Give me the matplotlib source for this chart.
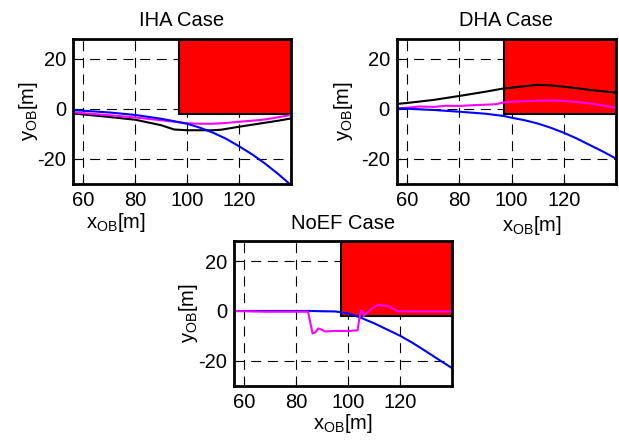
import matplotlib.pyplot as plt
from matplotlib.patches import Rectangle

plt.rcParams['font.family'] = ['Liberation Sans', 'DejaVu Sans']
plt.rcParams['mathtext.fontset'] = 'custom'
plt.rcParams['mathtext.rm'] = 'Liberation Sans'
plt.rcParams['mathtext.it'] = 'Liberation Sans'
plt.rcParams['axes.unicode_minus'] = False

# --- data ---
iha_blue_x = [56, 60, 70, 80, 90, 100, 105, 110, 115, 120, 125, 130, 135, 140]
iha_blue_y = [-0.6, -0.8, -1.5, -2.5, -4.0, -6.0, -7.6, -9.6, -12.0, -15.0, -18.2, -21.9, -26.0, -30.5]
iha_mag_x = [56, 60, 70, 80, 90, 100, 105, 110, 115, 120, 125, 130, 135, 140]
iha_mag_y = [-1.5, -1.8, -2.6, -3.5, -4.6, -5.8, -6.0, -6.0, -5.7, -5.2, -4.8, -4.3, -3.4, -2.5]
iha_blk_x = [56, 60, 70, 80, 90, 95, 100, 105, 110, 113, 120, 125, 130, 135, 140]
iha_blk_y = [-1.9, -2.3, -3.3, -4.4, -6.6, -8.3, -8.6, -8.6, -8.6, -8.4, -7.2, -6.4, -5.6, -4.8, -3.9]

dha_blue_x = [56, 60, 70, 80, 90, 97, 100, 105, 110, 115, 120, 125, 130, 135, 140]
dha_blue_y = [0.1, 0.0, -0.5, -1.2, -2.0, -2.9, -3.6, -4.6, -5.9, -7.6, -9.6, -11.9, -14.5, -17.1, -19.9]
dha_mag_x = [56, 60, 65, 70, 75, 80, 85, 90, 94, 97, 100, 105, 110, 115, 120, 125, 130, 135, 140]
dha_mag_y = [0.1, 0.4, 0.9, 0.7, 1.2, 1.1, 1.4, 1.6, 1.8, 2.5, 2.8, 3.0, 3.2, 3.3, 3.1, 2.7, 2.1, 1.3, 0.4]
dha_blk_x = [56, 60, 70, 80, 90, 97, 100, 105, 110, 115, 120, 125, 130, 135, 140]
dha_blk_y = [1.9, 2.3, 3.5, 5.1, 6.8, 8.1, 8.4, 9.0, 9.5, 9.3, 8.8, 8.2, 7.5, 7.0, 6.4]

noef_blue_x = [56, 70, 85, 95, 100, 105, 110, 115, 120, 125, 130, 135, 140]
noef_blue_y = [0.0, 0.0, 0.0, -0.2, -1.0, -2.8, -5.0, -7.5, -10.0, -13.0, -16.3, -19.7, -23.0]
noef_mag_x = [56, 68, 84.5, 85.3, 86.2, 87.3, 88.3, 89.5, 91, 95, 100, 103.5, 104.2, 104.8, 105.3, 105.9,
              106.6, 107.5, 109, 111.4, 113, 115, 116.5, 118.8, 125, 140]
noef_mag_y = [0.0, -0.3, -0.3, -4.5, -9.0, -8.6, -7.0, -7.4, -8.2, -8.0, -8.0, -7.8, -3.0, 0.2, 0.0, -2.0,
              -1.0, -0.5, 1.0, 2.4, 2.2, 2.0, 1.3, -0.1, -0.2, -0.2]

# obstacle (red block)
obs_x0, obs_y0 = 97, -2.2

cases = [
    ("IHA Case", [0.118, 0.586, 0.352, 0.327],
     [(iha_blk_x, iha_blk_y, 'black'), (iha_mag_x, iha_mag_y, '#ff00ff'), (iha_blue_x, iha_blue_y, 'blue')],
     (0.197, -0.19), (-0.151, 0.5)),
    ("DHA Case", [0.641, 0.586, 0.354, 0.327],
     [(dha_blk_x, dha_blk_y, 'black'), (dha_mag_x, dha_mag_y, '#ff00ff'), (dha_blue_x, dha_blue_y, 'blue')],
     (0.618, -0.21), (-0.19, 0.5)),
    ("NoEF Case", [0.378, 0.131, 0.353, 0.326],
     [(noef_blue_x, noef_blue_y, 'blue'), (noef_mag_x, noef_mag_y, '#ff00ff')],
     (0.5, -0.18), (-0.155, 0.5)),
]

fig = plt.figure(figsize=(6.19, 4.44), dpi=100)

for title, rect, lines, xlab_pos, ylab_pos in cases:
    ax = fig.add_axes(rect)
    ax.set_xlim(56, 140)
    ax.set_ylim(-30, 28)
    ax.set_xticks([60, 80, 100, 120])
    ax.set_yticks([-20, 0, 20])
    ax.grid(True, color='black', linestyle=(0, (9, 6)), linewidth=0.8, zorder=0)
    ax.set_axisbelow(True)
    ax.add_patch(Rectangle((obs_x0, obs_y0), 140 - obs_x0, 28 - obs_y0, facecolor='red',
                           edgecolor='black', linewidth=1.5, zorder=2))
    for x, y, c in lines:
        ax.plot(x, y, color=c, linewidth=1.5, zorder=3)
    for s in ax.spines.values():
        s.set_linewidth(2)
        s.set_zorder(5)
    ax.tick_params(direction='in', length=3, labelsize=14.5, pad=5)
    ax.set_title(title, fontsize=14.5, pad=9)
    ax.set_xlabel(r'$\mathregular{x_{OB}[m]}$', fontsize=14.5)
    ax.set_ylabel(r'$\mathregular{y_{OB}[m]}$', fontsize=14.5)
    ax.xaxis.set_label_coords(*xlab_pos)
    ax.yaxis.set_label_coords(*ylab_pos)

fig.savefig("out.png", dpi=100)
